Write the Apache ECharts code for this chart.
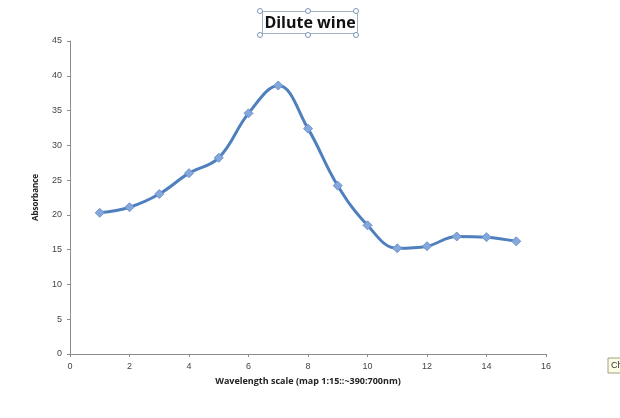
<!DOCTYPE html>
<html>
<head>
<meta charset="utf-8">
<script src="https://cdn.jsdelivr.net/npm/echarts@6/dist/echarts.min.js"></script>
<style>
  html, body { margin: 0; padding: 0; background: #fff; }
  #chart { width: 620px; height: 418px; }
</style>
</head>
<body>
<div id="chart"></div>
<script>
// wavelength scale positions and measured absorbance
const scalePos = [1, 2, 3, 4, 5, 6, 7, 8, 9, 10, 11, 12, 13, 14, 15];
const absorbance = [20.3, 21.1, 23.0, 26.0, 28.2, 34.6, 38.6, 32.4, 24.2, 18.5, 15.2, 15.5, 16.9, 16.8, 16.2];

const chart = echarts.init(document.getElementById("chart"));

const points = scalePos.map((x, i) => [x, absorbance[i]]);
const axisColor = "#8c8c8c";
const labelStyle = { color: "#444", fontSize: 9, fontFamily: "Liberation Sans" };

const handle = (x, y) => ({
  type: "circle",
  shape: { cx: x, cy: y, r: 2.5 },
  style: { fill: "#fff", stroke: "#7a96b8", lineWidth: 1 },
  z: 10,
});

const option = {
  animation: false,
  title: {
    text: "Dilute wine",
    left: "center",
    top: 11,
    padding: [4, 2, 3, 2],
    borderColor: "#9fb0c4",
    borderWidth: 1,
    textStyle: {
      fontSize: 16,
      fontWeight: "bold",
      color: "#111",
      fontFamily: "Open Sans",
    },
  },
  grid: { left: 70, right: 74, top: 41, bottom: 64 },
  xAxis: {
    type: "value",
    min: 0,
    max: 16,
    interval: 2,
    name: "Wavelength scale (map 1:15::~390:700nm)",
    nameLocation: "middle",
    nameGap: 23,
    nameTextStyle: { fontSize: 9, fontWeight: "bold", color: "#222", fontFamily: "Open Sans" },
    axisLine: { lineStyle: { color: axisColor } },
    axisTick: { show: true, length: 3, lineStyle: { color: axisColor } },
    axisLabel: labelStyle,
    splitLine: { show: false },
  },
  yAxis: {
    type: "value",
    min: 0,
    max: 45,
    interval: 5,
    name: "Absorbance",
    nameLocation: "middle",
    nameGap: 30,
    nameTextStyle: { fontSize: 8, fontWeight: "bold", color: "#222", fontFamily: "Open Sans" },
    axisLine: { show: true, lineStyle: { color: axisColor } },
    axisTick: { show: true, length: 3, lineStyle: { color: axisColor } },
    axisLabel: labelStyle,
    splitLine: { show: false },
  },
  series: [
    {
      type: "line",
      data: points,
      smooth: 0.4,
      symbol: "diamond",
      symbolSize: 9,
      lineStyle: { color: "#4f7fbd", width: 3 },
      itemStyle: { color: "#84a7dc", borderColor: "#6f93cc", borderWidth: 1 },
    },
  ],
  graphic: [
    handle(260, 11), handle(308, 11), handle(356, 11),
    handle(260, 35), handle(308, 35), handle(356, 35),
    {
      type: "rect",
      shape: { x: 608, y: 358, width: 20, height: 15 },
      style: { fill: "#fbfbe6", stroke: "#a0a080", lineWidth: 1 },
    },
    {
      type: "text",
      style: { x: 611, y: 361, text: "Ch", fontSize: 9, fill: "#333", fontFamily: "Liberation Sans" },
    },
  ],
};

chart.setOption(option);
</script>
</body>
</html>
